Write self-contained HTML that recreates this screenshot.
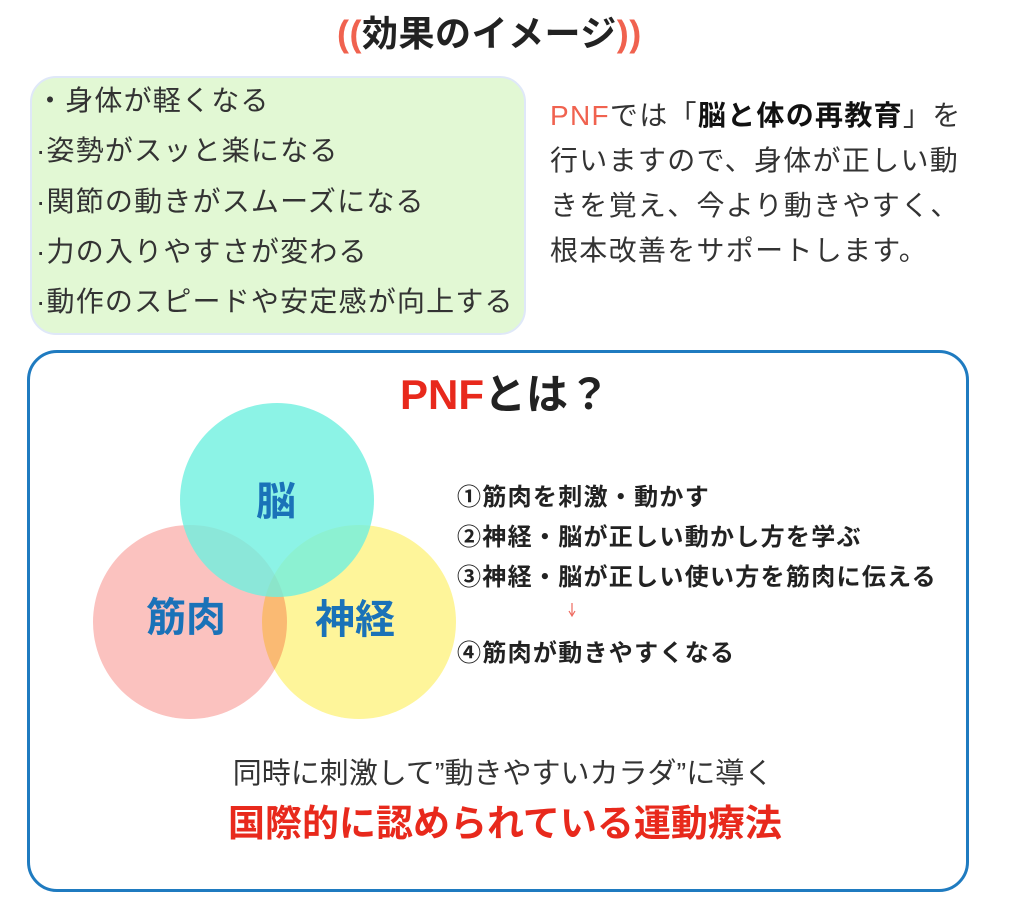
<!DOCTYPE html>
<html><head><meta charset="utf-8"><style>
body{margin:0;width:1024px;height:907px;background:#fff;position:relative;font-family:"Liberation Sans","Noto Sans CJK JP",sans-serif;color:#222;overflow:hidden}
.a{position:absolute;white-space:nowrap}
</style></head><body>
<div class="a" style="left:337px;top:12px;font-size:36px;font-weight:bold;line-height:44px;letter-spacing:0.5px"><span style="color:#f0624f">((</span>効果のイメージ<span style="color:#f0624f">))</span></div>
<div class="a" style="left:30px;top:76px;width:492px;height:255px;background:#e2f8d4;border:2px solid #dfe8f8;border-radius:26px"></div>
<div class="a" style="left:36px;top:76px;font-size:28px;line-height:50.3px;color:#333;letter-spacing:1.2px">
・身体が軽くなる<br>·姿勢がスッと楽になる<br>·関節の動きがスムーズになる<br>·力の入りやすさが変わる<br>·動作のスピードや安定感が向上する</div>
<div class="a" style="left:550px;top:93px;font-size:28px;line-height:45px;color:#333;letter-spacing:1.3px"><span style="color:#f0624f">PNF</span>では「<b style="color:#111">脳と体の再教育</b>」を<br>行いますので、身体が正しい動<br>きを覚え、今より動きやすく、<br>根本改善をサポートします。</div>
<div class="a" style="left:27px;top:350px;width:936px;height:536px;border:3px solid #1f7bc0;border-radius:30px"></div>
<div class="a" style="left:400px;top:370px;font-size:42px;font-weight:bold;line-height:50px"><span style="color:#e8291c">PNF</span>とは？</div>
<svg class="a" style="left:0;top:0" width="1024" height="907">
<circle cx="190" cy="622" r="97" fill="#fbc2bf" style="mix-blend-mode:multiply"/>
<circle cx="359" cy="622" r="97" fill="#fef59a" style="mix-blend-mode:multiply"/>
<circle cx="277" cy="500" r="97" fill="#6ff0e0" opacity="0.8"/>
<g font-family="Liberation Sans,Noto Sans CJK JP,sans-serif" font-weight="bold" font-size="40" fill="#1a72b8" text-anchor="middle">
<text x="276" y="515">脳</text><text x="186" y="631">筋肉</text><text x="355" y="633">神経</text></g>
<path d="M572 603v12M569 611l3 5 3-5" stroke="#ee6a5f" fill="none" stroke-width="1.2"/>
</svg>
<div class="a" style="left:457px;top:478px;font-size:24px;font-weight:bold;line-height:40px;color:#222;letter-spacing:1.3px">①筋肉を刺激・動かす<br>②神経・脳が正しい動かし方を学ぶ<br>③神経・脳が正しい使い方を筋肉に伝える</div>
<div class="a" style="left:457px;top:638px;font-size:24px;font-weight:bold;line-height:32px;color:#222;letter-spacing:1.3px">④筋肉が動きやすくなる</div>
<div class="a" style="left:0;width:1006px;top:756px;text-align:center;font-size:29px;line-height:36px;color:#333">同時に刺激して”動きやすいカラダ”に導く</div>
<div class="a" style="left:0;width:1010px;top:801px;text-align:center;font-size:37px;font-weight:bold;line-height:46px;color:#e8291c">国際的に認められている運動療法</div>
</body></html>
